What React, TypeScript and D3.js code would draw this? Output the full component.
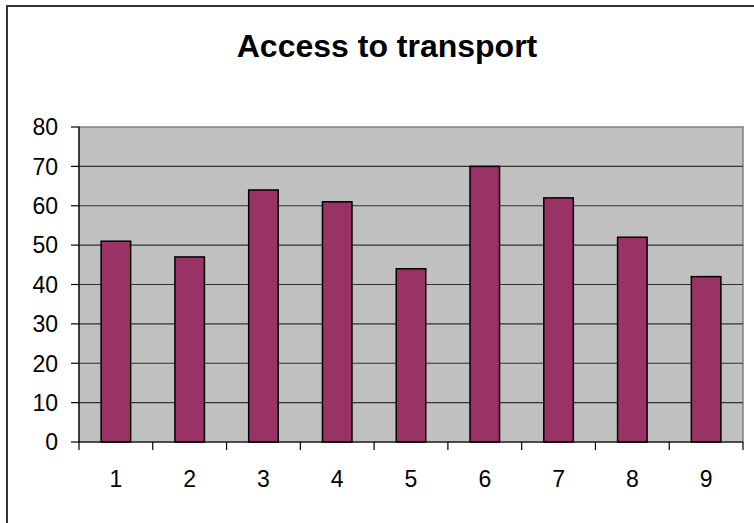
import React from "react";
import * as d3 from "d3";

const categories = ["1", "2", "3", "4", "5", "6", "7", "8", "9"];
const values = [51, 47, 64, 61, 44, 70, 62, 52, 42];
const yTicks = [0, 10, 20, 30, 40, 50, 60, 70, 80];
const title = "Access to transport";

export default function App() {
  const W = 754, H = 523;
  const left = 79, right = 743, top = 127, bottom = 442;
  const x = d3.scaleBand().domain(categories).range([left, right]).paddingInner(0).paddingOuter(0);
  const y = d3.scaleLinear().domain([0, 80]).range([bottom, top]);
  const bw = x.bandwidth() / 2.5;
  const font = "'Liberation Sans', Arial, sans-serif";
  return (
    <svg width={W} height={H} style={{ position: "absolute", left: 0, top: 0 }}>
      <rect x={0} y={0} width={W} height={H} fill="#fff" />
      <rect x={7} y={6} width={W + 10} height={H + 10} fill="none" stroke="#333" strokeWidth={2} />
      <text x={387} y={57} textAnchor="middle" fontFamily={font} fontWeight="bold" fontSize={32}>{title}</text>
      <rect x={left} y={top} width={right - left} height={bottom - top} fill="#c0c0c0" stroke="#808080" strokeWidth={1.5} />
      {yTicks.filter(t => t > 0 && t < 80).map(t => (
        <line key={"g" + t} x1={left} x2={right} y1={y(t)} y2={y(t)} stroke="#333" strokeWidth={1.2} />
      ))}
      {categories.map((c, i) => (
        <rect key={c} x={x(c)! + (x.bandwidth() - bw) / 2} y={y(values[i])} width={bw} height={bottom - y(values[i])}
          fill="#993366" stroke="#000" strokeWidth={1.5} />
      ))}
      <line x1={left} x2={left} y1={top} y2={bottom} stroke="#000" strokeWidth={1.2} />
      <line x1={left} x2={right} y1={bottom} y2={bottom} stroke="#000" strokeWidth={1.2} />
      {yTicks.map(t => (
        <g key={"y" + t}>
          <line x1={left - 8} x2={left} y1={y(t)} y2={y(t)} stroke="#000" strokeWidth={1.2} />
          <text x={58} y={y(t)} dy="0.36em" textAnchor="end" fontFamily={font} fontSize={23}>{t}</text>
        </g>
      ))}
      {[...categories.map(c => x(c)!), right].map((p, i) => (
        <line key={"xt" + i} x1={p} x2={p} y1={bottom} y2={bottom + 8} stroke="#000" strokeWidth={1.2} />
      ))}
      {categories.map(c => (
        <text key={"xl" + c} x={x(c)! + x.bandwidth() / 2} y={487} textAnchor="middle" fontFamily={font} fontSize={23}>{c}</text>
      ))}
    </svg>
  );
}
